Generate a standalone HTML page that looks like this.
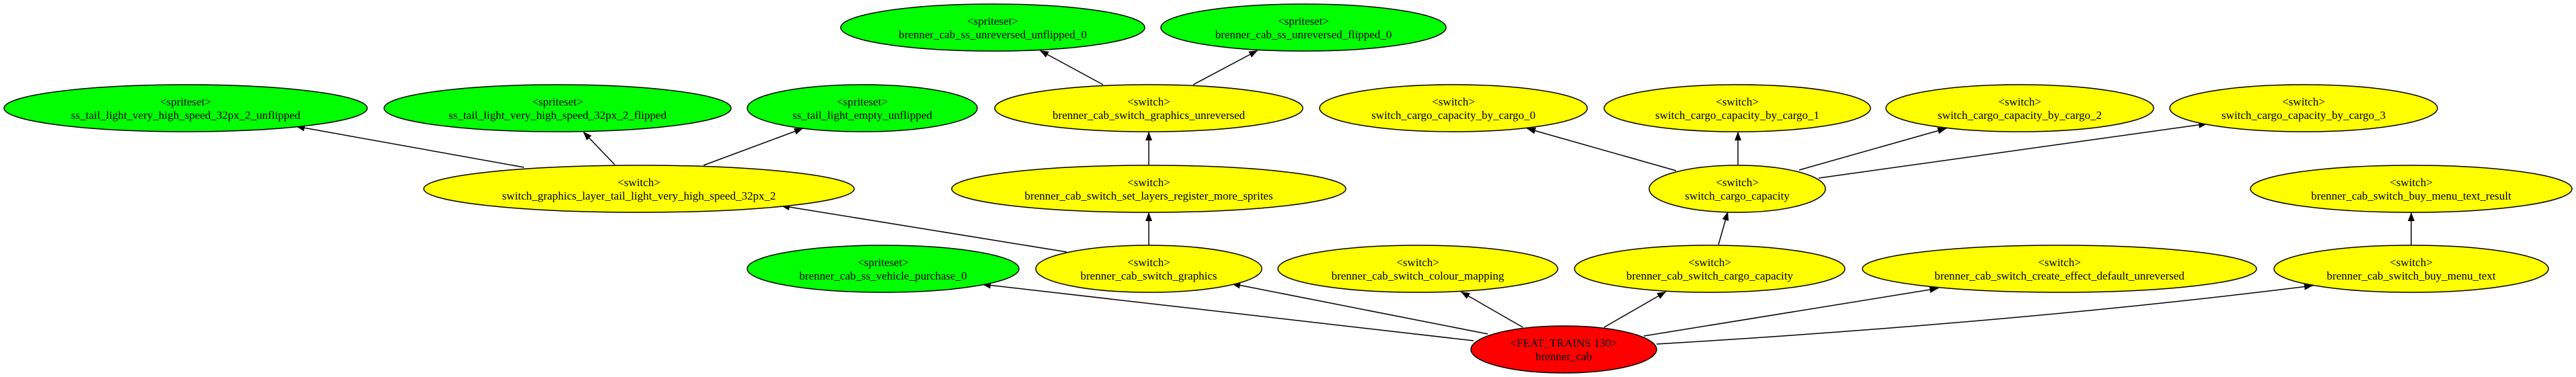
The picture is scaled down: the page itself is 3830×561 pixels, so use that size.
<!DOCTYPE html>
<html><head><meta charset="utf-8"><style>
html,body{margin:0;padding:0;background:#fff;}
svg{display:block;}
text{font-family:"Liberation Serif",serif;font-size:17px;fill:#000;text-anchor:middle;}
</style></head><body>
<svg width="3830" height="561" viewBox="0 0 3830 561" xmlns="http://www.w3.org/2000/svg">
<defs>
<marker id="a" markerUnits="userSpaceOnUse" markerWidth="14" markerHeight="10" refX="13" refY="5" orient="auto">
<path d="M0,0 L13,5 L0,10 Z" fill="#000"/>
</marker>
</defs>
<g stroke="#000" stroke-width="1.5" fill="none" marker-end="url(#a)">
<line x1="779" y1="249" x2="440" y2="188"/>
<line x1="914" y1="245" x2="867" y2="196"/>
<line x1="1046" y1="246" x2="1194" y2="191"/>
<line x1="1586" y1="375" x2="1161" y2="306"/>
<line x1="1640" y1="126" x2="1546" y2="75"/>
<line x1="1774" y1="126" x2="1870" y2="75"/>
<line x1="1708" y1="245" x2="1708" y2="196"/>
<line x1="1708" y1="365" x2="1708" y2="316"/>
<line x1="2191" y1="507" x2="1460" y2="423"/>
<line x1="2212" y1="497" x2="1831" y2="422"/>
<line x1="2264" y1="487" x2="2172" y2="434"/>
<line x1="2385" y1="487" x2="2477" y2="434"/>
<line x1="2444" y1="500" x2="2882" y2="429"/>
<path d="M2463,512 Q3000,480 3439,425"/>
<line x1="2555" y1="364" x2="2569" y2="315"/>
<line x1="2492" y1="254" x2="2270" y2="191"/>
<line x1="2584" y1="245" x2="2584" y2="196"/>
<line x1="2675" y1="253" x2="2894" y2="191"/>
<line x1="2704" y1="265" x2="3282" y2="184"/>
<line x1="3585" y1="365" x2="3585" y2="316"/>
</g>
<g stroke="#000" stroke-width="1.5">
<ellipse cx="1476" cy="41" rx="226" ry="35" fill="#00ff00"/>
<ellipse cx="1938" cy="41" rx="212" ry="35" fill="#00ff00"/>
<ellipse cx="276" cy="161" rx="270" ry="35" fill="#00ff00"/>
<ellipse cx="829" cy="161" rx="258" ry="35" fill="#00ff00"/>
<ellipse cx="1282" cy="161" rx="171" ry="35" fill="#00ff00"/>
<ellipse cx="1708" cy="161" rx="229" ry="35" fill="#ffff00"/>
<ellipse cx="2161" cy="161" rx="199" ry="35" fill="#ffff00"/>
<ellipse cx="2583" cy="161" rx="198" ry="35" fill="#ffff00"/>
<ellipse cx="3003" cy="161" rx="199" ry="35" fill="#ffff00"/>
<ellipse cx="3425" cy="161" rx="199" ry="35" fill="#ffff00"/>
<ellipse cx="950" cy="281" rx="320" ry="35" fill="#ffff00"/>
<ellipse cx="1708" cy="281" rx="293" ry="35" fill="#ffff00"/>
<ellipse cx="2583" cy="281" rx="131" ry="35" fill="#ffff00"/>
<ellipse cx="3585" cy="281" rx="239" ry="35" fill="#ffff00"/>
<ellipse cx="1313" cy="400" rx="202" ry="35" fill="#00ff00"/>
<ellipse cx="1708" cy="400" rx="168" ry="35" fill="#ffff00"/>
<ellipse cx="2108" cy="400" rx="208" ry="35" fill="#ffff00"/>
<ellipse cx="2542" cy="400" rx="201" ry="35" fill="#ffff00"/>
<ellipse cx="3062" cy="400" rx="293" ry="35" fill="#ffff00"/>
<ellipse cx="3585" cy="400" rx="204" ry="35" fill="#ffff00"/>
<ellipse cx="2325" cy="520" rx="138" ry="35" fill="#ff0000"/>
</g>
<g>
<text x="1476" y="37">&lt;spriteset&gt;</text><text x="1476" y="57">brenner_cab_ss_unreversed_unflipped_0</text>
<text x="1938" y="37">&lt;spriteset&gt;</text><text x="1938" y="57">brenner_cab_ss_unreversed_flipped_0</text>
<text x="276" y="157">&lt;spriteset&gt;</text><text x="276" y="177">ss_tail_light_very_high_speed_32px_2_unflipped</text>
<text x="829" y="157">&lt;spriteset&gt;</text><text x="829" y="177">ss_tail_light_very_high_speed_32px_2_flipped</text>
<text x="1282" y="157">&lt;spriteset&gt;</text><text x="1282" y="177">ss_tail_light_empty_unflipped</text>
<text x="1708" y="157">&lt;switch&gt;</text><text x="1708" y="177">brenner_cab_switch_graphics_unreversed</text>
<text x="2161" y="157">&lt;switch&gt;</text><text x="2161" y="177">switch_cargo_capacity_by_cargo_0</text>
<text x="2583" y="157">&lt;switch&gt;</text><text x="2583" y="177">switch_cargo_capacity_by_cargo_1</text>
<text x="3003" y="157">&lt;switch&gt;</text><text x="3003" y="177">switch_cargo_capacity_by_cargo_2</text>
<text x="3425" y="157">&lt;switch&gt;</text><text x="3425" y="177">switch_cargo_capacity_by_cargo_3</text>
<text x="950" y="277">&lt;switch&gt;</text><text x="950" y="297">switch_graphics_layer_tail_light_very_high_speed_32px_2</text>
<text x="1708" y="277">&lt;switch&gt;</text><text x="1708" y="297">brenner_cab_switch_set_layers_register_more_sprites</text>
<text x="2583" y="277">&lt;switch&gt;</text><text x="2583" y="297">switch_cargo_capacity</text>
<text x="3585" y="277">&lt;switch&gt;</text><text x="3585" y="297">brenner_cab_switch_buy_menu_text_result</text>
<text x="1313" y="396">&lt;spriteset&gt;</text><text x="1313" y="416">brenner_cab_ss_vehicle_purchase_0</text>
<text x="1708" y="396">&lt;switch&gt;</text><text x="1708" y="416">brenner_cab_switch_graphics</text>
<text x="2108" y="396">&lt;switch&gt;</text><text x="2108" y="416">brenner_cab_switch_colour_mapping</text>
<text x="2542" y="396">&lt;switch&gt;</text><text x="2542" y="416">brenner_cab_switch_cargo_capacity</text>
<text x="3062" y="396">&lt;switch&gt;</text><text x="3062" y="416">brenner_cab_switch_create_effect_default_unreversed</text>
<text x="3585" y="396">&lt;switch&gt;</text><text x="3585" y="416">brenner_cab_switch_buy_menu_text</text>
<text x="2325" y="516">&lt;FEAT_TRAINS 130&gt;</text><text x="2325" y="536">brenner_cab</text>
</g>
</svg>
</body></html>
